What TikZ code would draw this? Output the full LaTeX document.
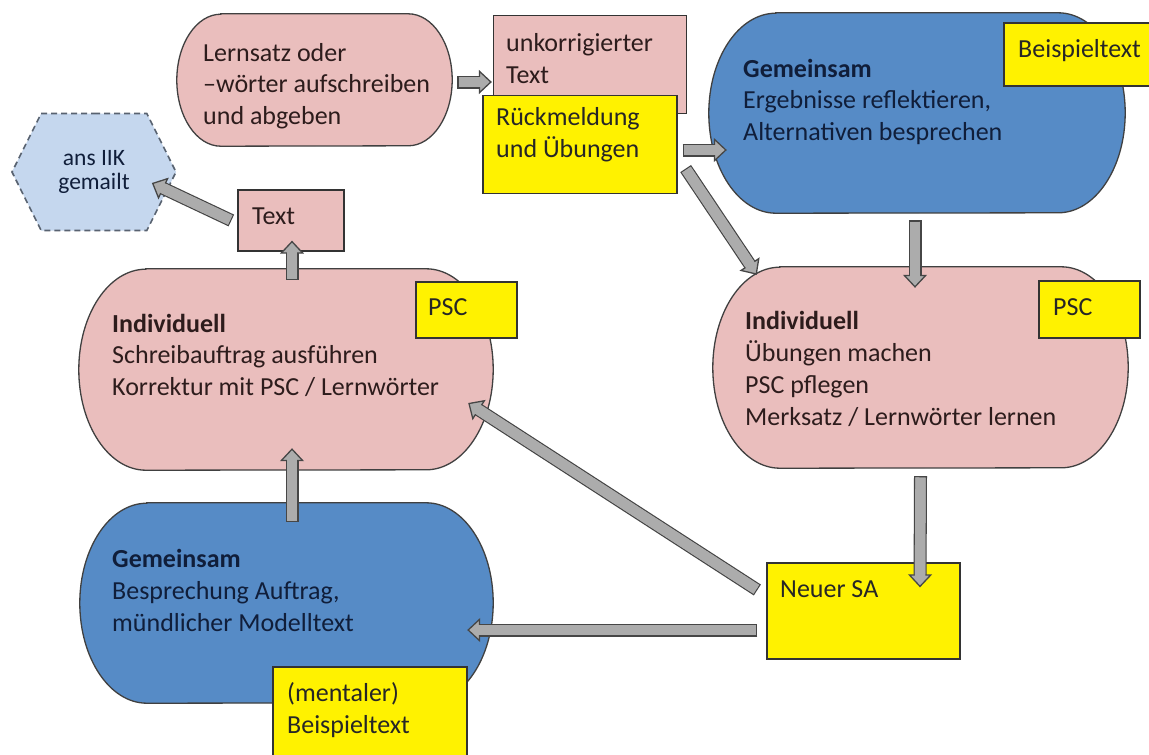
\documentclass[tikz,border=0pt]{standalone}
\usepackage{fontspec}
\setmainfont{Carlito}
\definecolor{pinkfill}{RGB}{234,190,189}
\definecolor{bluefill}{RGB}{86,139,198}
\definecolor{hexfill}{RGB}{197,215,238}
\definecolor{hexline}{RGB}{88,98,112}
\definecolor{arrowgray}{RGB}{172,172,172}
\definecolor{arrowline}{RGB}{70,70,70}
\definecolor{pinktext}{RGB}{45,28,28}
\definecolor{bluetext}{RGB}{16,30,58}
\usetikzlibrary{arrows.meta,calc,shapes.symbols}

\tikzset{
  frame/.style={inner sep=0pt},
  pinkpill/.style={fill=pinkfill, draw=black!75, line width=1.3pt},
  bluepill/.style={fill=bluefill, draw=black!75, line width=1.3pt},
  pinkbox/.style={frame, fill=pinkfill, draw=black!80, line width=1.3pt},
  yellowbox/.style={frame, fill=yellow, draw=black!80, line width=1.3pt},
  txt/.style={anchor=base west, align=left, inner sep=0pt, text=black!85,
    font=\fontsize{26pt}{31.7pt}\selectfont},
  hexa/.style={shape=signal, signal to=west and east, signal pointer angle=127,
    minimum width=164pt, minimum height=117pt, inner sep=0pt, fill=hexfill,
    draw=hexline, line width=1.6pt, dash pattern=on 6pt off 4pt, align=center,
    text=bluetext, font=\fontsize{23.5pt}{24pt}\selectfont},
  blockarrow/.style={draw=arrowgray, line width=10.4pt, shorten <=1.3pt,
    -{Triangle[length=13pt,width=24pt,line width=1.3pt,color=arrowline,fill=arrowgray]},
    preaction={draw=arrowline, line width=13pt, arrows=-, shorten <=0pt, shorten >=9pt},
    postaction={draw=arrowgray, line width=10.4pt, arrows=-, shorten >=11pt}}
}

% terminator outline round a frame node: node, x radius, y radius
\newcommand{\termpath}[3]{($(#1.north west)+(#2,0)$) -- ($(#1.north east)+(-#2,0)$)
  arc[start angle=90,end angle=-90,x radius=#2pt,y radius=#3pt]
  -- ($(#1.south west)+(#2,0)$)
  arc[start angle=270,end angle=90,x radius=#2pt,y radius=#3pt] -- cycle}

\begin{document}
\begin{tikzpicture}[x=1pt,y=-1pt]
\path[use as bounding box, fill=white] (0,0) rectangle (1149,755);

% Pillen (Textanker = Grundlinie der letzten Zeile)
\node[frame, minimum width=275pt, minimum height=132pt] (lernsatz) at (314.5,80) {};
\node[frame, minimum width=416pt, minimum height=200pt] (gemOben) at (917,113) {};
\node[frame, minimum width=415pt, minimum height=201pt] (indivR) at (920.5,367.5) {};
\node[frame, minimum width=414pt, minimum height=201pt] (indivL) at (286,369.5) {};
\node[frame, minimum width=413pt, minimum height=200pt] (gemUnten) at (286.5,603) {};
\draw[pinkpill] \termpath{lernsatz}{44}{66};
\draw[bluepill] \termpath{gemOben}{67}{100};
\draw[pinkpill] \termpath{indivR}{67}{100.5};
\draw[pinkpill] \termpath{indivL}{67}{100.5};
\draw[bluepill] \termpath{gemUnten}{67}{100};
\node[txt, pinktext] (lernsatzTxt) at (203,124.5) {Lernsatz oder\\–wörter aufschreiben\\und abgeben};
\node[txt, bluetext] (gemObenTxt) at (743,140.5) {\textbf{Gemeinsam}\\Ergebnisse reflektieren,\\Alternativen besprechen};
\node[txt, pinktext] (indivRTxt) at (745,425) {\textbf{Individuell}\\Übungen machen\\PSC pflegen\\Merksatz / Lernwörter lernen};
\node[txt, pinktext] (indivLTxt) at (112,395.5) {\textbf{Individuell}\\Schreibauftrag ausführen\\Korrektur mit PSC / Lernwörter};
\node[txt, bluetext] (gemUntenTxt) at (112,631) {\textbf{Gemeinsam}\\Besprechung Auftrag,\\mündlicher Modelltext};

% Kaesten
\node[pinkbox, minimum width=193pt, minimum height=98pt] (unkorr) at (590,64.5) {};
\node[txt, pinktext] (unkorrTxt) at (506,83.5) {unkorrigierter\\Text};
\node[yellowbox, minimum width=194pt, minimum height=98pt] (rueck) at (580,144.6) {};
\node[txt] (rueckTxt) at (496,157) {Rückmeldung\\und Übungen};
\node[yellowbox, minimum width=147pt, minimum height=63pt] (beispiel) at (1077.5,54.5) {};
\node[txt] (beispielTxt) at (1018,57) {Beispieltext};
\node[yellowbox, minimum width=101pt, minimum height=57pt] (pscR) at (1089.5,309.5) {};
\node[txt] (pscRTxt) at (1053,315) {PSC};
\node[yellowbox, minimum width=101pt, minimum height=56pt] (pscL) at (466.5,310) {};
\node[txt] (pscLTxt) at (428,315) {PSC};
\node[yellowbox, minimum width=193pt, minimum height=96pt] (neuer) at (863.5,611) {};
\node[txt] (neuerTxt) at (780,597) {Neuer SA};
\node[yellowbox, minimum width=194pt, minimum height=98pt] (mental) at (370,716) {};
\node[txt] (mentalTxt) at (287,733.5) {(mentaler)\\Beispieltext};
\node[pinkbox, minimum width=106pt, minimum height=61pt] (textbox) at (291,220.5) {};
\node[txt, pinktext] (textboxTxt) at (252,224) {Text};
\node[hexa] (iik) at (94,172) {ans IIK\\gemailt};

% Pfeile
\draw[blockarrow] ($(lernsatz.east)+(5,2)$) -- ($(unkorr.west)+(-1,17.5)$);
\draw[blockarrow] ($(rueck.east)+(5,5.4)$) -- ($(gemOben.west)+(18,37)$);
\draw[blockarrow] ($(rueck.east)+(8,24)$) -- ($(indivR.north west)+(44,8)$);
\draw[blockarrow] ($(gemOben.south)+(-2,7)$) -- ($(indivR.north)+(-5.5,21)$);
\draw[blockarrow] ($(indivR.south)+(0,8)$) -- ($(neuer.north)+(56.5,25)$);
\draw[blockarrow] ($(neuer.west)+(-9,-21)$) -- ($(indivL.east)+(-25,33.5)$);
\draw[blockarrow] ($(neuer.west)+(-9,19)$) -- ($(gemUnten.east)+(-26,27)$);
\draw[blockarrow] ($(gemUnten.north)+(5.5,19)$) -- ($(indivL.south)+(6,-22)$);
\draw[blockarrow] ($(indivL.north)+(6,11)$) -- ($(textbox.south)+(1,-11)$);
\draw[blockarrow] ($(textbox.west)+(-6,0)$) -- ($(iik.east)+(-25,11)$);
\end{tikzpicture}
\end{document}
